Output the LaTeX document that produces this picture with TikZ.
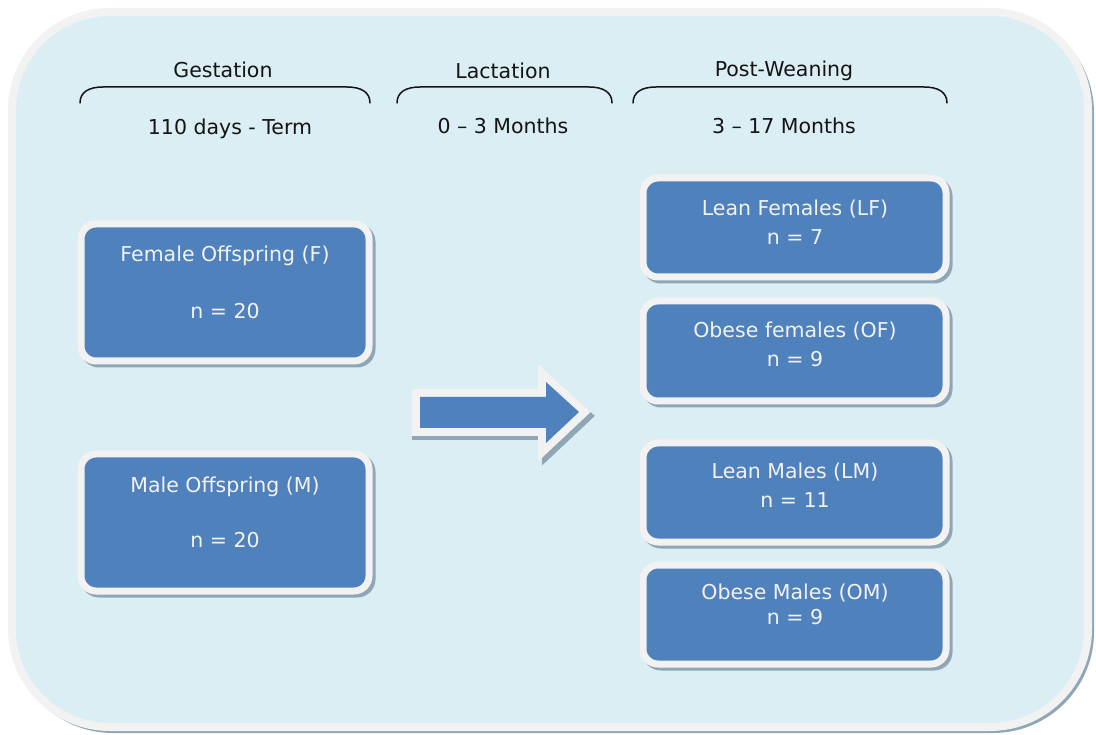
\documentclass[tikz,border=0pt]{standalone}
\usepackage{fontspec}
\setmainfont{DejaVu Sans}
\definecolor{panelfill}{HTML}{DAEEF3}
\definecolor{rimgrey}{HTML}{F2F2F2}
\definecolor{boxblue}{HTML}{4F81BD}
\definecolor{shadowgrey}{HTML}{8FA6B6}
\definecolor{inktext}{HTML}{141414}
\tikzset{
  grpbox/.style={draw=rimgrey, line width=7pt, fill=boxblue, rounded corners=15pt},
  grpshadow/.style={draw=shadowgrey, line width=7pt, fill=shadowgrey, rounded corners=15pt},
  boxtext/.style={text=rimgrey, font=\fontsize{20.5}{24}\selectfont, inner sep=0pt, anchor=center},
  headtext/.style={text=inktext, font=\fontsize{20.5}{24}\selectfont, inner sep=0pt, anchor=center},
  bracket/.style={draw=inktext, line width=1.5pt, line cap=round},
}
\begin{document}
\begin{tikzpicture}[x=1pt, y=-1pt]
  \useasboundingbox (0,0) rectangle (1096,735);

  % outer panel with its rim and drop shadow
  \draw[draw=shadowgrey, line width=6pt, rounded corners=98pt] (15,15) rectangle (1091,730);
  \draw[draw=rimgrey, fill=panelfill, line width=8pt, rounded corners=98pt] (12,12) rectangle (1088,727);

  % phase headings with brackets
  \node[headtext] (gest) at (223,70) {Gestation};
  \node[headtext] (lact) at (503,71) {Lactation};
  \node[headtext] (post) at (784,71) {Post-Weaning};
  \draw[bracket] (80,103) .. controls (80,92) and (89,87) .. (103,87) -- (347,87) .. controls (361,87) and (370,92) .. (370,103);
  \draw[bracket] (397,103) .. controls (397,92) and (406,87) .. (420,87) -- (589,87) .. controls (603,87) and (612,92) .. (612,103);
  \draw[bracket] (633,103) .. controls (633,92) and (642,87) .. (656,87) -- (924,87) .. controls (938,87) and (947,92) .. (947,103);
  \node[headtext] (gestspan) at (230,129) {110 days - Term};
  \node[headtext] (lactspan) at (503,126) {0 – 3 Months};
  \node[headtext] (postspan) at (784,126) {3 – 17 Months};

  % offspring groups
  \draw[grpshadow] (84,227) rectangle (372,364);
  \draw[grpbox] (81,224) rectangle (369,361);
  \node[boxtext] (fem) at (225,256) {Female Offspring (F)};
  \node[boxtext] (femn) at (225,311) {n = 20};

  \draw[grpshadow] (84,457) rectangle (372,594);
  \draw[grpbox] (81,454) rectangle (369,591);
  \node[boxtext] (mal) at (225,487) {Male Offspring (M)};
  \node[boxtext] (maln) at (225,540) {n = 20};

  % block arrow: shadow, white rim, blue body
  \draw[draw=shadowgrey, fill=shadowgrey, line width=16pt, line join=miter]
    (420,401) -- (550,401) -- (550,386) -- (583,416) -- (550,447) -- (550,432) -- (420,432) -- cycle;
  \draw[draw=rimgrey, fill=rimgrey, line width=16pt, line join=miter]
    (420,397) -- (546,397) -- (546,382) -- (579,412) -- (546,443) -- (546,428) -- (420,428) -- cycle;
  \fill[boxblue]
    (420,397) -- (546,397) -- (546,382) -- (579,412) -- (546,443) -- (546,428) -- (420,428) -- cycle;

  % post-weaning groups
  \draw[grpshadow] (646,181) rectangle (949,280);
  \draw[grpbox] (643,178) rectangle (946,277);
  \node[boxtext] (lf) at (795,209) {Lean Females (LF)};
  \node[boxtext] (lfn) at (795,237) {n = 7};

  \draw[grpshadow] (646,304) rectangle (949,404);
  \draw[grpbox] (643,301) rectangle (946,401);
  \node[boxtext] (of) at (795,331) {Obese females (OF)};
  \node[boxtext] (ofn) at (795,359) {n = 9};

  \draw[grpshadow] (646,446) rectangle (949,545);
  \draw[grpbox] (643,443) rectangle (946,542);
  \node[boxtext] (lm) at (795,472) {Lean Males (LM)};
  \node[boxtext] (lmn) at (795,500) {n = 11};

  \draw[grpshadow] (646,568) rectangle (949,667);
  \draw[grpbox] (643,565) rectangle (946,664);
  \node[boxtext] (om) at (795,593) {Obese Males (OM)};
  \node[boxtext] (omn) at (795,617) {n = 9};
\end{tikzpicture}
\end{document}
